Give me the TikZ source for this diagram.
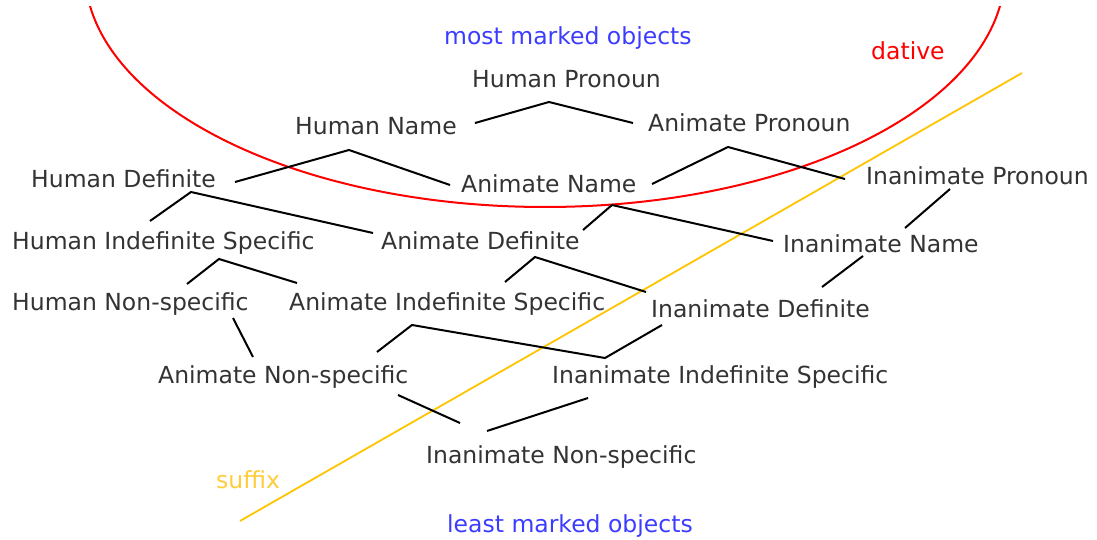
\documentclass[tikz,border=0pt]{standalone}
\usepackage{fontspec}
\setmainfont{DejaVu Sans}
\usepackage{tikz}
\definecolor{markblue}{RGB}{60,60,255}
\definecolor{dativered}{RGB}{255,0,0}
\definecolor{suffixgold}{RGB}{255,196,0}
\definecolor{suffixtext}{RGB}{255,204,60}

\begin{document}
\begin{tikzpicture}[x=1pt,y=-1pt,
		lbl/.style={inner sep=0pt,anchor=base west,text=black!80,font=\fontsize{23.5}{28}\selectfont},
		link/.style={line width=2pt,black}]
			\useasboundingbox (0,0) rectangle (1097,540);
			\begin{scope}
				\clip (0,7) rectangle (1097,540);
				\draw[dativered, line width=2pt] (545,-29) ellipse [x radius=460pt, y radius=236pt];
			\end{scope}
			\draw[suffixgold, line width=1.8pt] (240,521) -- (1022,73);
			\node[lbl,text=markblue] (most) at (444,45) {most marked objects};
			\node[lbl,text=dativered] (dative) at (871,60) {dative};
			\node[lbl,text=suffixtext] (suffix) at (216,488) {suffix};
			\node[lbl,text=markblue] (least) at (447,532) {least marked objects};
			\node[lbl] (hpron) at (472,88) {Human Pronoun};
			\node[lbl] (hname) at (295,135) {Human Name};
			\node[lbl] (apron) at (648,132) {Animate Pronoun};
			\node[lbl] (hdef) at (31,188) {Human Definite};
			\node[lbl] (aname) at (461,193) {Animate Name};
			\node[lbl] (ipron) at (866,185) {Inanimate Pronoun};
			\node[lbl] (hind) at (12,249) {Human Indefinite Specific};
			\node[lbl] (adef) at (381,249) {Animate Definite};
			\node[lbl] (iname) at (783,252) {Inanimate Name};
			\node[lbl] (hnon) at (12,310) {Human Non-specific};
			\node[lbl] (aind) at (289,310) {Animate Indefinite Specific};
			\node[lbl] (idef) at (651,317) {Inanimate Definite};
			\node[lbl] (anon) at (158,383) {Animate Non-specific};
			\node[lbl] (iind) at (552,383) {Inanimate Indefinite Specific};
			\node[lbl] (inon) at (426,463) {Inanimate Non-specific};
			\coordinate (hname-r) at (475,123);
			\coordinate (hpron-b) at (549,102);
			\coordinate (apron-l) at (633,123);
			\coordinate (hdef-r) at (235,182);
			\coordinate (hname-b) at (349,150);
			\coordinate (aname-l) at (450,185);
			\coordinate (hind-t) at (150,221);
			\coordinate (hdef-b) at (191,192);
			\coordinate (adef-l) at (373,233);
			\coordinate (aname-r) at (652,184);
			\coordinate (apron-b) at (728,147);
			\coordinate (ipron-l) at (845,179);
			\coordinate (adef-r) at (583,230);
			\coordinate (aname-b) at (612,205);
			\coordinate (iname-l) at (773,241);
			\coordinate (iname-t) at (905,228);
			\coordinate (ipron-b) at (950,189);
			\coordinate (hnon-t) at (187,284);
			\coordinate (hind-b) at (219,259);
			\coordinate (aind-l) at (297,283);
			\coordinate (aind-t) at (505,282);
			\coordinate (adef-b) at (535,257);
			\coordinate (idef-l) at (646,292);
			\coordinate (idef-t) at (822,287);
			\coordinate (iname-b) at (863,256);
			\coordinate (anon-t) at (377,352);
			\coordinate (aind-b) at (412,325);
			\coordinate (iind-t) at (605,358);
			\coordinate (idef-b) at (662,325);
			\coordinate (hnon-b) at (233,318);
			\coordinate (anon-l) at (253,357);
			\coordinate (anon-b) at (398,395);
			\coordinate (inon-l) at (460,423);
			\coordinate (inon-t) at (487,431);
			\coordinate (iind-b) at (588,398);
			\draw[link] (hname-r) -- (hpron-b) -- (apron-l);
			\draw[link] (hdef-r) -- (hname-b) -- (aname-l);
			\draw[link] (hind-t) -- (hdef-b) -- (adef-l);
			\draw[link] (aname-r) -- (apron-b) -- (ipron-l);
			\draw[link] (adef-r) -- (aname-b) -- (iname-l);
			\draw[link] (iname-t) -- (ipron-b);
			\draw[link] (hnon-t) -- (hind-b) -- (aind-l);
			\draw[link] (aind-t) -- (adef-b) -- (idef-l);
			\draw[link] (idef-t) -- (iname-b);
			\draw[link] (anon-t) -- (aind-b) -- (iind-t) -- (idef-b);
			\draw[link] (hnon-b) -- (anon-l);
			\draw[link] (anon-b) -- (inon-l);
			\draw[link] (inon-t) -- (iind-b);
		\end{tikzpicture}
\end{document}
